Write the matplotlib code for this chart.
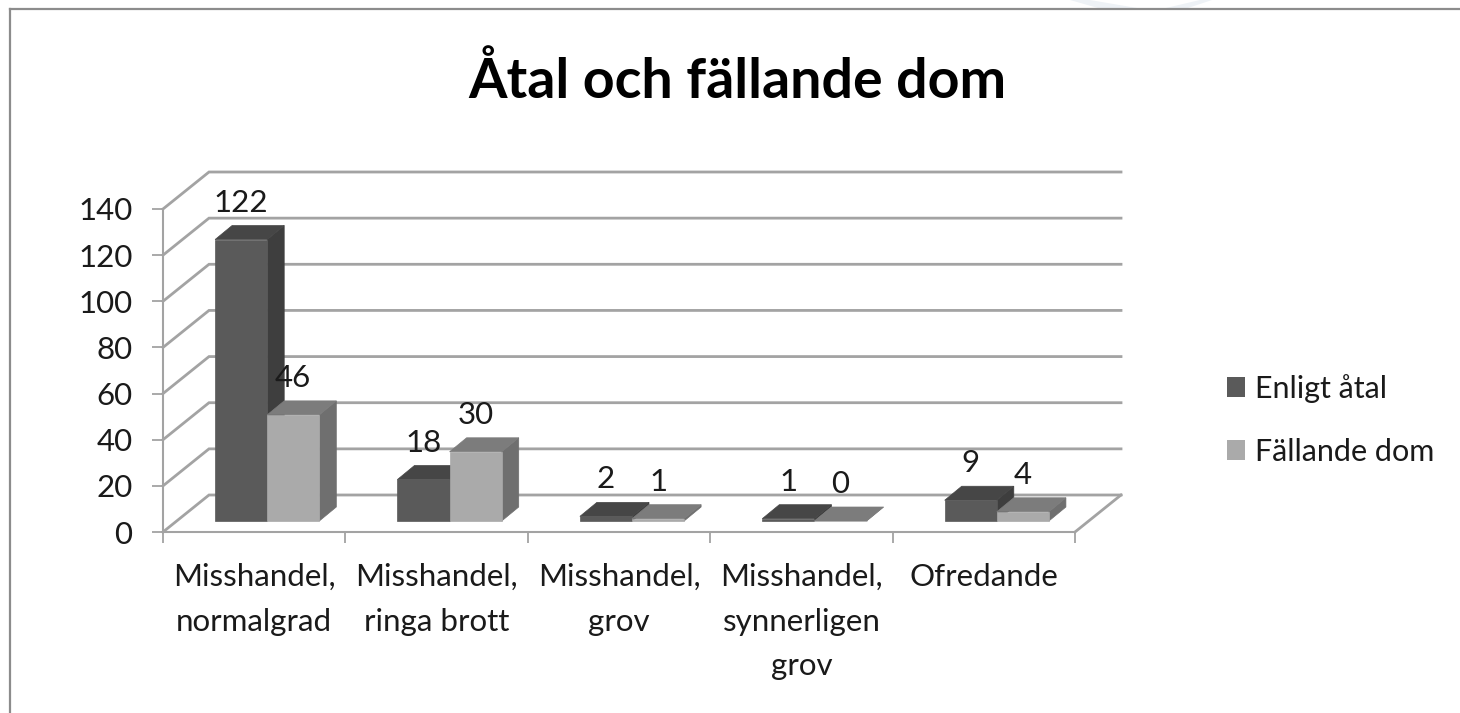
from matplotlib import pyplot as plt
from matplotlib.lines import Line2D
from matplotlib.patches import Patch, Polygon
import numpy as np

categories = ['Misshandel,\nnormalgrad', 'Misshandel,\nringa brott', 'Misshandel,\ngrov',
              'Misshandel,\nsynnerligen\ngrov', 'Ofredande']
enligt_atal = [122, 18, 2, 1, 9]
fallande_dom = [46, 30, 1, 0, 4]
series_names = ['Enligt åtal', 'Fällande dom']
y_ticks = [0, 20, 40, 60, 80, 100, 120, 140]
title = 'Åtal och fällande dom'

W, H = 1460, 713
LEFT, RIGHT, TOP, BOTTOM = 163, 1075, 209, 532
PX_X = (RIGHT - LEFT) / len(categories)
PX_Y = (BOTTOM - TOP) / 140

# pseudo 3d offsets, pixels converted to data units
WALL_DX, WALL_DY = 46 / PX_X, 37 / PX_Y
FRONT_DX, FRONT_DY = 13 / PX_X, 11 / PX_Y
DEPTH_DX, DEPTH_DY = 17 / PX_X, 14 / PX_Y
BAR_W = 1 / 3.5
GAP = 0.75 * BAR_W

DARK = {'front': '#5a5a5a', 'side': '#3e3e3e', 'top': '#464646'}
LIGHT = {'front': '#aaaaaa', 'side': '#6f6f6f', 'top': '#7c7c7c'}
GRID = '#a3a3a3'
TEXT = '#1a1a1a'

plt.rcParams['font.family'] = ['Lato', 'DejaVu Sans']


def draw_bar(ax, x, value, colors):
    x0 = x + FRONT_DX
    x1 = x0 + BAR_W
    y0 = FRONT_DY
    y1 = y0 + value
    dx, dy = DEPTH_DX, DEPTH_DY
    faces = [
        ('side', [(x1, y0), (x1 + dx, y0 + dy), (x1 + dx, y1 + dy), (x1, y1)]),
        ('top', [(x0, y1), (x0 + dx, y1 + dy), (x1 + dx, y1 + dy), (x1, y1)]),
        ('front', [(x0, y0), (x1, y0), (x1, y1), (x0, y1)]),
    ]
    for name, pts in faces:
        ax.add_patch(Polygon(pts, closed=True, facecolor=colors[name], edgecolor=colors[name],
                             linewidth=0.5, clip_on=False, zorder=3))
    ax.annotate(str(value), (x0 + BAR_W / 2, y1 + dy), xytext=(0, 16.5), textcoords='offset points',
                ha='center', va='center', fontsize=22.5, color=TEXT, zorder=5)


def main():
    fig = plt.figure(figsize=(W / 100, H / 100), dpi=100)
    ax = fig.add_axes([LEFT / W, 1 - BOTTOM / H, (RIGHT - LEFT) / W, (BOTTOM - TOP) / H])
    ax.set_xlim(0, len(categories))
    ax.set_ylim(0, 140)
    ax.patch.set_alpha(0)

    for v in y_ticks:
        ax.plot([0, WALL_DX, len(categories) + WALL_DX], [v, v + WALL_DY, v + WALL_DY],
                color=GRID, lw=2, clip_on=False, zorder=1, solid_joinstyle='miter')
    ax.plot([len(categories), len(categories) + WALL_DX], [0, WALL_DY], color=GRID, lw=2,
            clip_on=False, zorder=1)

    for i in range(len(categories)):
        draw_bar(ax, i + GAP, enligt_atal[i], DARK)
        draw_bar(ax, i + GAP + BAR_W, fallande_dom[i], LIGHT)

    for side in ['top', 'right']:
        ax.spines[side].set_visible(False)
    for side in ['left', 'bottom']:
        ax.spines[side].set_color(GRID)
        ax.spines[side].set_linewidth(1.5)

    ax.set_yticks(y_ticks)
    ax.tick_params(axis='y', length=8, width=1.3, color=GRID, pad=14, labelsize=22.5, labelcolor=TEXT)
    ax.set_xticks(np.arange(len(categories) + 1))
    ax.set_xticklabels([])
    ax.set_xticks(np.arange(len(categories)) + 0.5, categories, minor=True, linespacing=1.72)
    ax.tick_params(axis='x', which='major', length=8, width=1.3, color=GRID)
    ax.tick_params(axis='x', which='minor', length=0, pad=22.5, labelsize=22.5, labelcolor=TEXT)

    fig.text(737 / W, 1 - 81 / H, title, ha='center', va='center', fontsize=40, fontweight='bold', color='black')

    handles = [Patch(facecolor=DARK['front']), Patch(facecolor=LIGHT['front'])]
    fig.legend(handles, series_names, loc='center left', bbox_to_anchor=(1199 / W, 1 - 420 / H),
               frameon=False, fontsize=22, handlelength=0.62, handleheight=0.62, handletextpad=0.3,
               labelspacing=1.15, labelcolor=TEXT)

    # screenshot frame, top and left edge only, and the faint watermark above it
    fig.add_artist(Line2D([10 / W, 10 / W], [0, 1 - 9 / H], color='#8c8c8c', lw=1.6))
    fig.add_artist(Line2D([10 / W, 1], [1 - 9 / H, 1 - 9 / H], color='#8c8c8c', lw=1.6))
    for shape in ([(1070, 0), (1090, 0), (1137, 8), (1098, 8)], [(1200, 0), (1212, 0), (1188, 8), (1166, 8)]):
        fig.add_artist(Polygon([(x / W, 1 - y / H) for x, y in shape], closed=True,
                               transform=fig.transFigure, facecolor='#eef2f6', edgecolor='none'))

    fig.savefig('out.png', dpi=100)


if __name__ == '__main__':
    main()
